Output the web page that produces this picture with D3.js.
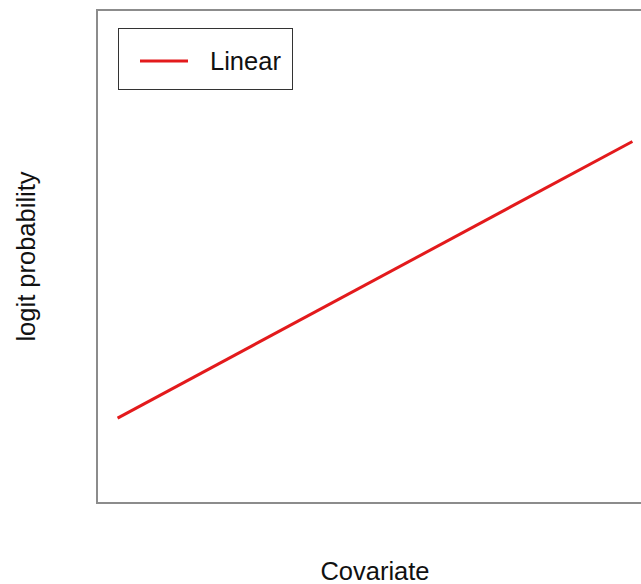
<!DOCTYPE html>
<html>
<head>
<meta charset="utf-8">
<script src="https://cdn.jsdelivr.net/npm/d3@7/dist/d3.min.js"></script>
<style>
  html, body { margin: 0; padding: 0; background: #fff; }
  svg { display: block; font-family: "Liberation Sans", Arial, Helvetica, sans-serif; }
</style>
</head>
<body>
<svg id="chart" width="641" height="584"></svg>
<script>
// Covariate values at the ends of the fitted linear predictor
const covariate = [0, 1];
// Fitted logit probability for the linear model
const logitLinear = [0.146, 0.752];
// Axis data ranges (R-style 4% padding is applied below)
const xRange = [0, 1];
const yRange = [0, 1];
const seriesNames = ["Linear"];

const svg = d3.select("#chart");
const box = { left: 97, top: 10, right: 653, bottom: 503 };
const fontSize = 25.5;

function padded(r) {
  const d = (r[1] - r[0]) * 0.04;
  return [r[0] - d, r[1] + d];
}

const x = d3.scaleLinear().domain(padded(xRange)).range([box.left, box.right]);
const y = d3.scaleLinear().domain(padded(yRange)).range([box.bottom, box.top]);

// Fitted line
const pts = covariate.map((c, i) => [c, logitLinear[i]]);
svg.append("path")
  .datum(pts)
  .attr("d", d3.line().x(d => x(d[0])).y(d => y(d[1])))
  .attr("fill", "none")
  .attr("stroke", "#e31a1c")
  .attr("stroke-width", 3);

// Plot frame
svg.append("rect")
  .attr("x", box.left).attr("y", box.top)
  .attr("width", box.right - box.left).attr("height", box.bottom - box.top)
  .attr("fill", "none")
  .attr("stroke", "#8c8c8c")
  .attr("stroke-width", 2);

// Legend
const lg = svg.append("g");
lg.append("rect")
  .attr("x", 118.5).attr("y", 28.5).attr("width", 174).attr("height", 61)
  .attr("fill", "#fff").attr("stroke", "#333").attr("stroke-width", 1);
seriesNames.forEach((name, i) => {
  lg.append("line")
    .attr("x1", 140).attr("x2", 188)
    .attr("y1", 61 + i * 30).attr("y2", 61 + i * 30)
    .attr("stroke", "#e31a1c").attr("stroke-width", 3);
  lg.append("text")
    .attr("x", 210).attr("y", 70 + i * 30)
    .attr("font-size", fontSize).attr("fill", "#111")
    .text(name);
});

// Axis titles
svg.append("text")
  .attr("x", (box.left + box.right) / 2).attr("y", 580)
  .attr("text-anchor", "middle").attr("font-size", fontSize).attr("fill", "#111")
  .text("Covariate");
svg.append("text")
  .attr("transform", `translate(35, ${(box.top + box.bottom) / 2}) rotate(-90)`)
  .attr("text-anchor", "middle").attr("font-size", fontSize).attr("fill", "#111")
  .text("logit probability");
</script>
</body>
</html>
